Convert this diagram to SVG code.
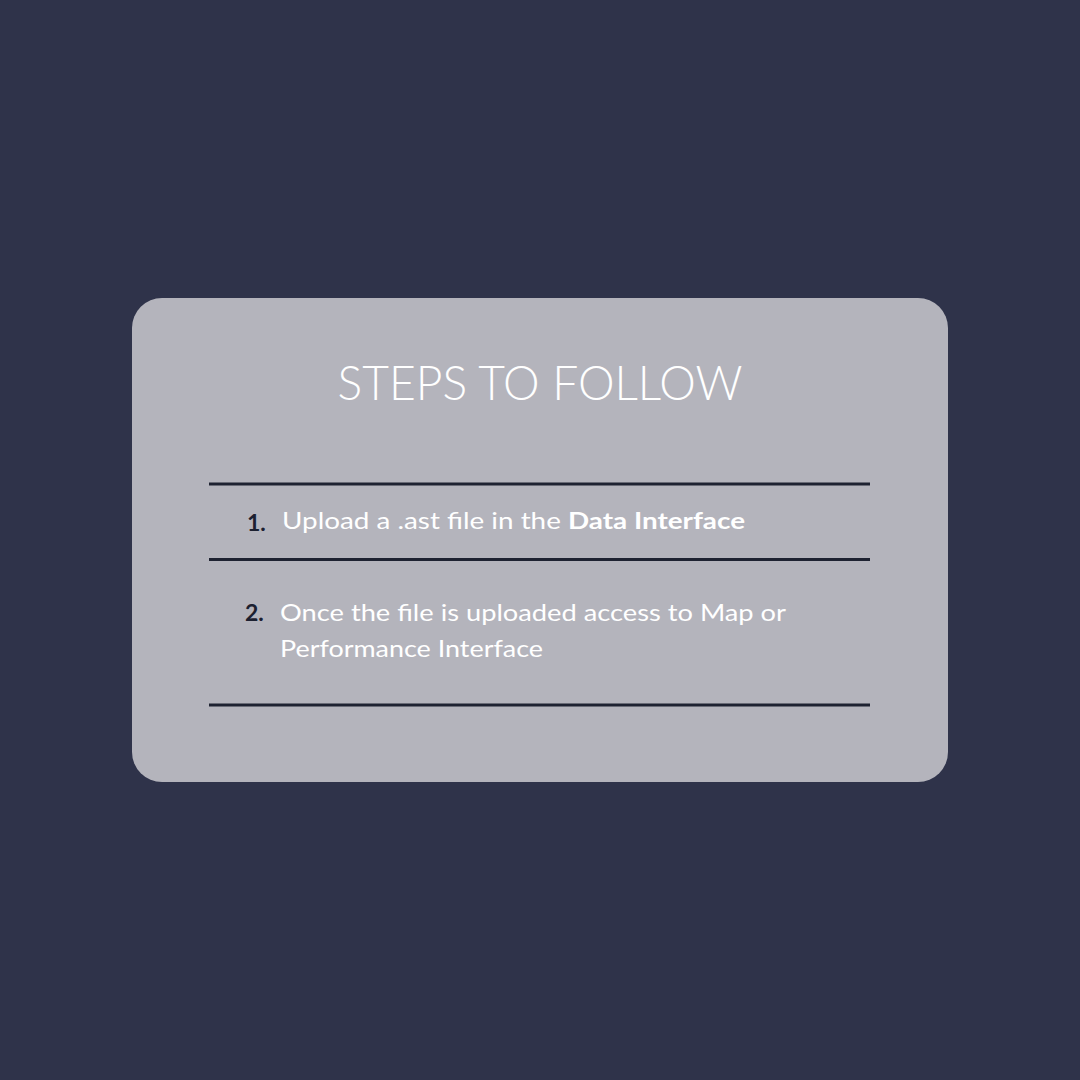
<svg xmlns="http://www.w3.org/2000/svg" width="1080" height="1080" viewBox="0 0 1080 1080">
<style>
.t{font-family:"Lato","Noto Sans","Liberation Sans",sans-serif;fill:#ffffff}
.title{font-size:48px;font-weight:300}
.body{font-size:23px;font-weight:400}
.num{font-family:"Lato","Liberation Sans",sans-serif;font-size:23px;font-weight:700;fill:#1c2030}
.sep{stroke:#1e2231;stroke-width:3}
</style>
<rect width="1080" height="1080" fill="#2f334a"/>
<g id="card">
<rect x="132" y="298" width="816" height="484" rx="30" fill="#b4b4bc"/>
</g>
<g id="title">
<text class="t title" x="540" y="400" text-anchor="middle" textLength="405" lengthAdjust="spacingAndGlyphs">STEPS TO FOLLOW</text>
</g>
<g id="separators">
<line class="sep" x1="209" y1="484" x2="870" y2="484"/>
<line class="sep" x1="209" y1="559.5" x2="870" y2="559.5"/>
<line class="sep" x1="209" y1="705" x2="870" y2="705" stroke="#363a55"/>
</g>
<g id="step1">
<text class="num" x="247" y="531">1.</text>
<text class="t body" x="282" y="529" textLength="463" lengthAdjust="spacingAndGlyphs">Upload a .ast file in the <tspan font-weight="700">Data Interface</tspan></text>
</g>
<g id="step2">
<text class="num" x="245" y="621">2.</text>
<text class="t body" x="280" y="621" textLength="506" lengthAdjust="spacingAndGlyphs">Once the file is uploaded access to Map or</text>
<text class="t body" x="280" y="657" textLength="263" lengthAdjust="spacingAndGlyphs">Performance Interface</text>
</g>
</svg>
